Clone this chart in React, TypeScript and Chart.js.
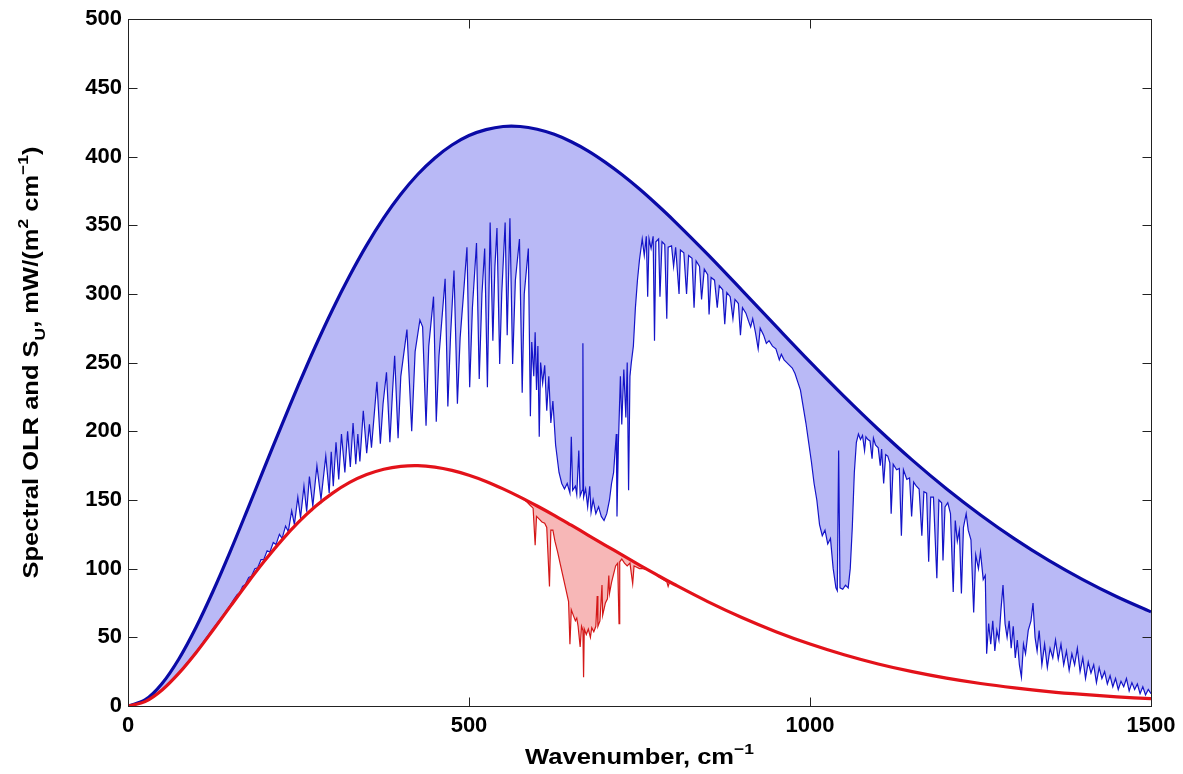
import React, { useEffect, useRef } from "react";
import { Chart, registerables } from "chart.js";

Chart.register(...registerables);

// Smooth Planck-like envelopes
const curveNu = [0, 25, 50, 75, 100, 125, 150, 175, 200, 225, 250, 275, 300, 325, 350, 375, 400, 425, 450, 475, 500, 525, 550, 575, 600, 625, 650, 675, 700, 725, 750, 775, 800, 850, 900, 950, 1000, 1050, 1100, 1150, 1200, 1250, 1300, 1350, 1400, 1450, 1500];
const surfaceCurve = [0, 4.4, 16.4, 34.6, 57.5, 83.9, 112.6, 142.8, 173.5, 204.0, 233.7, 262.1, 288.7, 313.2, 335.5, 355.3, 372.5, 387.1, 399.0, 408.4, 415.3, 419.6, 421.9, 421.9, 419.9, 416.2, 410.8, 404.0, 395.8, 386.6, 376.4, 365.3, 353.6, 328.8, 302.8, 276.5, 250.5, 225.4, 201.5, 179.0, 158.2, 139.1, 121.7, 106.0, 92.0, 79.5, 68.5];
const coldCurve = [0, 3.2, 11.7, 24.1, 39.0, 55.5, 72.5, 89.4, 105.5, 120.4, 133.8, 145.4, 155.0, 162.8, 168.5, 172.4, 174.5, 175.0, 173.9, 171.5, 168.0, 163.5, 158.1, 152.1, 145.6, 138.8, 131.6, 124.3, 117.0, 109.8, 102.6, 95.6, 88.8, 76.0, 64.4, 54.1, 45.1, 37.3, 30.6, 25.0, 20.3, 16.4, 13.2, 10.5, 8.4, 6.7, 5.3];

// Spectral OLR (thin blue)
const olrNu = [
  0, 25, 50, 75, 100, 115, 125, 135, 145, 150,
  155, 160, 164, 168, 172, 177, 181, 186, 190, 195,
  199, 204, 208, 213, 217, 222, 226, 231, 235, 240,
  244, 249, 253, 258, 262, 266, 271, 277, 283, 290,
  295, 298, 301, 305, 309, 313, 318, 322, 326, 330,
  334, 337, 340, 345, 350, 354, 357, 365, 370, 374,
  379, 384, 388, 391, 396, 400, 409, 416, 421, 428,
  432, 437, 441, 448, 452, 456, 465, 469, 473, 478,
  483, 487, 492, 497, 501, 505, 511, 515, 519, 523,
  527, 531, 535, 538, 541, 545, 548, 553, 556, 560,
  564, 568, 574, 578, 581, 587, 590, 592, 595, 597,
  599, 601, 603, 605, 608, 611, 614, 617, 620, 623,
  627, 632, 636, 640, 644, 648, 650, 652, 656, 658,
  661, 663, 666, 667, 668, 671, 674, 677, 679, 682,
  686, 690, 694, 698, 702, 706, 709, 712, 716, 717,
  719, 722, 724, 727, 730, 732, 734, 736, 738, 741,
  744, 747, 750, 754, 757, 760, 762, 764, 767, 770,
  772, 774, 778, 780, 783, 787, 790, 792, 797, 800,
  803, 808, 810, 815, 819, 822, 827, 830, 833, 838,
  841, 845, 850, 852, 855, 860, 864, 867, 872, 875,
  878, 883, 887, 890, 895, 898, 901, 906, 910, 913,
  916, 920, 924, 927, 932, 936, 940, 945, 950, 955,
  958, 962, 966, 970, 974, 978, 982, 986, 990, 994,
  998, 1002, 1006, 1010, 1014, 1018, 1022, 1026, 1030, 1034,
  1038, 1040, 1042, 1044, 1048, 1052, 1056, 1059, 1062, 1065,
  1068, 1071, 1074, 1077, 1080, 1082, 1085, 1088, 1091, 1093,
  1096, 1100, 1103, 1105, 1108, 1111, 1114, 1117, 1119, 1122,
  1127, 1131, 1134, 1137, 1142, 1146, 1149, 1152, 1156, 1160,
  1164, 1167, 1171, 1174, 1177, 1181, 1186, 1189, 1193, 1195,
  1198, 1202, 1206, 1210, 1213, 1216, 1219, 1222, 1225, 1229,
  1232, 1236, 1240, 1243, 1247, 1250, 1254, 1257, 1259, 1262,
  1265, 1268, 1271, 1274, 1277, 1280, 1283, 1286, 1289, 1292,
  1295, 1298, 1301, 1304, 1307, 1310, 1313, 1316, 1320, 1324,
  1327, 1330, 1333, 1336, 1340, 1344, 1348, 1352, 1356, 1360,
  1364, 1368, 1372, 1376, 1380, 1384, 1388, 1392, 1396, 1400,
  1404, 1408, 1412, 1416, 1420, 1424, 1428, 1432, 1436, 1440,
  1444, 1448, 1452, 1456, 1460, 1464, 1468, 1472, 1476, 1480,
  1484, 1488, 1492, 1496, 1500,
];
const olrVal = [
  0, 3.3, 11.9, 24.3, 39.5, 49.8, 56.5, 63, 70, 73.5,
  77.5, 81, 82.5, 87, 88.5, 93.5, 94.5, 100, 100.5, 106.5,
  106.5, 113, 112, 119, 117.5, 125, 122, 131, 127, 142,
  132, 152, 137, 160, 141.5, 167, 145.5, 175, 150.5, 182,
  155, 185, 160, 192, 165, 198, 170, 200, 174, 206,
  176, 198, 178, 215, 184, 205, 188, 236, 191, 220,
  243, 192, 230, 255, 195, 240, 274, 200, 258, 281,
  276, 204, 262, 298, 207, 255, 311, 218, 270, 317,
  220, 268, 300, 334, 232, 290, 337, 238, 300, 333,
  232, 352, 266, 320, 348, 249, 300, 352, 270, 355,
  249, 310, 340, 228, 300, 333, 211, 265, 240, 272,
  230, 262, 196, 250, 235, 248, 215, 240, 206, 222,
  190, 170, 162, 158, 162, 155, 196, 157, 160, 154,
  186, 153, 157, 264, 152, 158, 145, 160, 141, 150,
  140, 145, 138, 135, 140, 150, 162, 170, 198, 138,
  190, 240, 205, 245, 210, 250, 157, 240, 250, 262,
  290, 310, 325, 340, 328, 342, 298, 340, 333, 342,
  266, 338, 340, 298, 338, 336, 282, 334, 335, 320,
  334, 300, 332, 330, 300, 328, 326, 290, 324, 320,
  296, 318, 314, 285, 312, 310, 290, 306, 303, 278,
  301, 298, 282, 296, 293, 270, 290, 286, 280, 276,
  282, 272, 260, 275, 270, 264, 266, 262, 260, 252,
  256, 252, 250, 248, 246, 242, 236, 230, 218, 206,
  192, 178, 162, 150, 132, 124, 128, 118, 122, 100,
  86, 84, 186, 86, 85, 88, 86, 100, 130, 170,
  192, 198, 194, 197, 186, 196, 194, 193, 180, 195,
  190, 188, 175, 187, 162, 183, 182, 177, 140, 176,
  172, 173, 124, 172, 165, 166, 138, 163, 160, 158,
  124, 156, 155, 105, 152, 152, 93, 150, 148, 106,
  145, 148, 140, 83, 135, 120, 128, 82, 130, 140,
  128, 121, 68, 110, 100, 112, 92, 95, 38, 60,
  45, 62, 40, 55, 48, 70, 88, 60, 50, 62,
  42, 58, 35, 48, 30, 21, 45, 38, 55, 62,
  75, 50, 40, 55, 30, 45, 28, 42, 35, 48,
  34, 45, 30, 40, 26, 38, 30, 42, 25, 35,
  20, 32, 24, 30, 17, 28, 20, 25, 16, 22,
  14, 20, 12, 18, 14, 20, 11, 17, 12, 16,
  9, 14, 8, 12, 9,
];

// Upper-level spectrum (thin red) where it departs from the cold envelope
const suNu = [
  560, 575, 580, 585, 590, 594, 597, 599, 603, 607,
  611, 614, 618, 620, 623, 626, 630, 634, 638, 642,
  646, 648, 650, 653, 656, 658, 660, 663, 665, 667,
  668, 669, 672, 675, 678, 680, 683, 686, 688, 689,
  692, 695, 696, 700, 703, 705, 706, 709, 712, 715,
  718, 720, 721, 724, 728, 732, 736, 740, 742, 746,
  750, 755, 760, 770, 780, 790, 792, 794, 800,
];
const suVal = [
  155.6, 152, 150.5, 148.5, 146, 144, 117, 138, 136, 134,
  133, 130, 87, 128, 128, 120, 112, 103, 94, 85,
  76, 45, 70, 66, 62, 64, 58, 43, 58, 55,
  21, 56, 52, 56, 50, 57, 54, 58, 80, 58,
  62, 88, 66, 75, 78, 95, 82, 90, 96, 102,
  104, 60, 105, 107, 104, 102, 104, 89, 102, 101,
  100, 100, 99.5, 97, 93.5, 90.5, 87, 90, 88.8,
];

const xTickValues = [0, 500, 1000, 1500];
const yTickValues = [0, 50, 100, 150, 200, 250, 300, 350, 400, 450, 500];

const FAMILY = '"Liberation Sans", Arial, Helvetica, sans-serif';

type Part = { text: string; kind: "n" | "sup" | "sub" };

function drawRich(ctx: CanvasRenderingContext2D, parts: Part[], size: number) {
  const small = Math.round(size * 0.7);
  const fontFor = (k: string) => `bold ${k === "n" ? size : small}px ${FAMILY}`;
  let total = 0;
  for (const p of parts) {
    ctx.font = fontFor(p.kind);
    total += ctx.measureText(p.text).width;
  }
  let x = -total / 2;
  ctx.textBaseline = "alphabetic";
  ctx.textAlign = "left";
  for (const p of parts) {
    ctx.font = fontFor(p.kind);
    const dy = p.kind === "sup" ? -size * 0.45 : p.kind === "sub" ? size * 0.3 : 0;
    ctx.fillText(p.text, x, dy);
    x += ctx.measureText(p.text).width;
  }
}

const framePlugin = {
  id: "matlabFrame",
  afterDraw(chart: any) {
    const { ctx, chartArea: a, scales } = chart;
    ctx.save();
    ctx.strokeStyle = "#222";
    ctx.lineWidth = 1;
    const L = Math.round(a.left) + 0.5;
    const T = Math.round(a.top) + 0.5;
    const R = Math.round(a.right) + 0.5;
    const B = Math.round(a.bottom) + 0.5;
    ctx.strokeRect(L, T, R - L, B - T);
    const tl = 9;
    ctx.beginPath();
    for (const v of xTickValues) {
      const px = Math.round(scales.x.getPixelForValue(v)) + 0.5;
      ctx.moveTo(px, B);
      ctx.lineTo(px, B - tl);
      ctx.moveTo(px, T);
      ctx.lineTo(px, T + tl);
    }
    for (const v of yTickValues) {
      const py = Math.round(scales.y.getPixelForValue(v)) + 0.5;
      ctx.moveTo(L, py);
      ctx.lineTo(L + tl, py);
      ctx.moveTo(R, py);
      ctx.lineTo(R - tl, py);
    }
    ctx.stroke();

    ctx.fillStyle = "#000";
    // x title
    ctx.save();
    ctx.translate((a.left + a.right) / 2, 764);
    ctx.scale(1.16, 1);
    drawRich(ctx, [
      { text: "Wavenumber, cm", kind: "n" },
      { text: "\u22121", kind: "sup" },
    ], 22);
    ctx.restore();

    // y title
    ctx.save();
    ctx.translate(38, (a.top + a.bottom) / 2);
    ctx.rotate(-Math.PI / 2);
    ctx.scale(1.16, 1);
    drawRich(ctx, [
      { text: "Spectral OLR and S", kind: "n" },
      { text: "U", kind: "sub" },
      { text: ", mW/(m", kind: "n" },
      { text: "2", kind: "sup" },
      { text: " cm", kind: "n" },
      { text: "\u22121", kind: "sup" },
      { text: ")", kind: "n" },
    ], 22);
    ctx.restore();

    ctx.restore();
  },
};

export default function App() {
  const canvasRef = useRef<HTMLCanvasElement | null>(null);

  useEffect(() => {
    const canvas = canvasRef.current;
    if (!canvas) return;

    const toPts = (xs: number[], ys: number[]) => xs.map((x, i) => ({ x, y: ys[i] }));

    const tickFont = { family: FAMILY, size: 22, weight: "bold" as const };

    const chart = new Chart(canvas, {
      type: "line",
      data: {
        datasets: [
          {
            label: "Cold envelope",
            data: toPts(curveNu, coldCurve),
            borderColor: "#e3121a",
            borderWidth: 3.2,
            pointRadius: 0,
            tension: 0.35,
            fill: false,
          },
          {
            label: "Surface envelope",
            data: toPts(curveNu, surfaceCurve),
            borderColor: "#0a0aa6",
            borderWidth: 3.2,
            pointRadius: 0,
            tension: 0.35,
            fill: false,
          },
          {
            label: "S_U",
            data: toPts(suNu, suVal),
            borderColor: "#d41818",
            borderWidth: 1.2,
            pointRadius: 0,
            tension: 0,
            fill: { target: 0, above: "#f7b7b7", below: "#f7b7b7" },
            backgroundColor: "#f7b7b7",
          },
          {
            label: "OLR",
            data: toPts(olrNu, olrVal),
            borderColor: "#1414c8",
            borderWidth: 1.2,
            pointRadius: 0,
            tension: 0,
            fill: { target: 1, above: "#b9b9f6", below: "#b9b9f6" },
            backgroundColor: "#b9b9f6",
          },
        ],
      },
      options: {
        animation: false,
        responsive: false,
        devicePixelRatio: 1,
        events: [],
        layout: { padding: { top: 19, right: 32, left: 0, bottom: 0 } },
        plugins: {
          legend: { display: false },
          tooltip: { enabled: false },
          title: { display: false },
        },
        elements: { point: { radius: 0 } },
        scales: {
          x: {
            type: "linear",
            min: 0,
            max: 1500,
            grid: { display: false, drawTicks: false },
            border: { display: false },
            afterBuildTicks: (s: any) => {
              s.ticks = xTickValues.map((v) => ({ value: v }));
            },
            afterFit: (s: any) => {
              s.height = 68;
            },
            ticks: {
              font: tickFont,
              color: "#000",
              padding: 7,
              maxRotation: 0,
              autoSkip: false,
              callback: (v: any) => String(v),
            },
          },
          y: {
            type: "linear",
            min: 0,
            max: 500,
            grid: { display: false, drawTicks: false },
            border: { display: false },
            afterBuildTicks: (s: any) => {
              s.ticks = yTickValues.map((v) => ({ value: v }));
            },
            afterFit: (s: any) => {
              s.width = 128;
            },
            ticks: {
              font: tickFont,
              color: "#000",
              padding: 6,
              autoSkip: false,
              callback: (v: any) => String(v),
            },
          },
        },
      },
      plugins: [framePlugin],
    } as any);

    return () => chart.destroy();
  }, []);

  return (
    <div style={{ position: "fixed", left: 0, top: 0, width: 1183, height: 774, background: "#fff" }}>
      <canvas ref={canvasRef} width={1183} height={774} style={{ display: "block" }} />
    </div>
  );
}
